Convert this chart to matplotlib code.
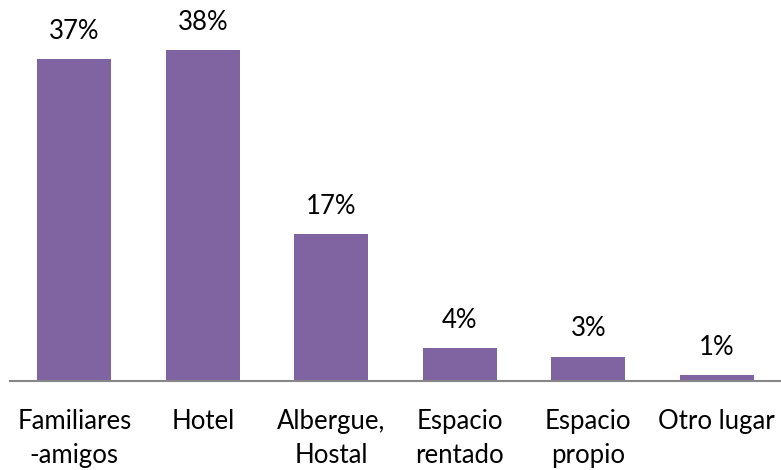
import matplotlib
matplotlib.use("Agg")
import matplotlib.pyplot as plt

categories = ["Familiares\n-amigos", "Hotel", "Albergue,\nHostal", "Espacio\nrentado", "Espacio\npropio", "Otro lugar"]
values = [37.0, 38.0, 16.9, 3.8, 2.8, 0.7]
labels = ["37%", "38%", "17%", "4%", "3%", "1%"]

plt.rcParams['font.family'] = ['Lato', 'DejaVu Sans']

fig = plt.figure(figsize=(7.81, 4.70), dpi=100)
ax = fig.add_axes([10/781, 89/470, 771/781, 348/470])
x = list(range(len(categories)))
bars = ax.bar(x, values, width=0.575, color="#8064A2")
for b, lab in zip(bars, labels):
    ax.annotate(lab, (b.get_x() + b.get_width()/2, b.get_height()),
                xytext=(0, 11), textcoords="offset points",
                ha="center", va="bottom", fontsize=18.5, color="black")
ax.set_xlim(-0.5, 5.5)
ax.set_ylim(0, 40)
ax.set_xticks(x)
ax.set_xticklabels(categories, fontsize=18.5, linespacing=1.45)
ax.tick_params(axis='x', length=0, pad=20)
ax.set_yticks([])
for s in ["top", "right", "left"]:
    ax.spines[s].set_visible(False)
ax.spines["bottom"].set_color("#868686")
ax.spines["bottom"].set_linewidth(1.5)
ax.patch.set_alpha(0)
fig.savefig("out.png", dpi=100)
